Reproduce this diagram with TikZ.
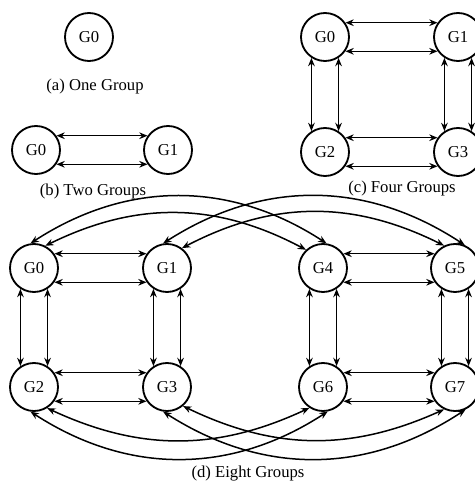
\documentclass[tikz,border=0pt]{standalone}
\usepackage{fontspec}
\setmainfont{Liberation Serif}
\usetikzlibrary{arrows.meta}

\begin{document}
\begin{tikzpicture}[
		x=0.6pt, y=0.6pt,
		>={Stealth[length=5pt,width=4pt]},
		G/.style = {circle, draw, line width=1.1pt,% group nodes
			minimum size=28.8pt, inner sep=0pt, font=\normalsize},
		A/.style = {<->, line width=0.9pt}, % links between groups
		L/.style = {font=\normalsize, inner sep=1pt},
		]
		\useasboundingbox (0,0) rectangle (475,484);
		% (a) one group
		\node[G] (a0) at (89,447) {G0};
		\node[L] (la) at (95,398) {(a) One Group};
		% (b) two groups
		\node[G] (b0) at (36,334) {G0};
		\node[G] (b1) at (168,334) {G1};
		\node[L] (lb) at (93,293) {(b) Two Groups};
		% (c) four groups
		\foreach \n/\x/\y in {0/325/447,1/458/447,2/325/332,3/458/332}
		\node[G] (c\n) at (\x,\y) {G\n};
		\node[L] (lc) at (402,296) {(c) Four Groups};
		% (d) eight groups
		\foreach \n/\x/\y in {0/34/216,1/167/216,2/34/97,3/167/97,
			4/323/216,5/455/216,6/323/97,7/455/97}
		\node[G] (d\n) at (\x,\y) {G\n};
		\node[L] (ld) at (248,10) {(d) Eight Groups};
		% straight links
		\foreach \a/\b in {b0/b1,c0/c1,c2/c3,d0/d1,d2/d3,d4/d5,d6/d7}{
			\draw[A] (\a.35) -- (\b.145);
			\draw[A] (\a.325) -- (\b.215);}
		\foreach \a/\b in {c0/c2,c1/c3,d0/d2,d1/d3,d4/d6,d5/d7}{
			\draw[A] (\a.237) -- (\b.123);
			\draw[A] (\a.303) -- (\b.57);}
		% long links
		\draw[A] (d0.98) to[bend left=33] (d4.82);
		\draw[A] (d0.63) to[bend left=27] (d4.133);
		\draw[A] (d1.99) to[bend left=33] (d5.67);
		\draw[A] (d1.53) to[bend left=27] (d5.116);
		\draw[A] (d2.262) to[bend right=33] (d6.281);
		\draw[A] (d2.302) to[bend right=25] (d6.237);
		\draw[A] (d3.261) to[bend right=33] (d7.295);
		\draw[A] (d3.310) to[bend right=25] (d7.244);
	\end{tikzpicture}
\end{document}
